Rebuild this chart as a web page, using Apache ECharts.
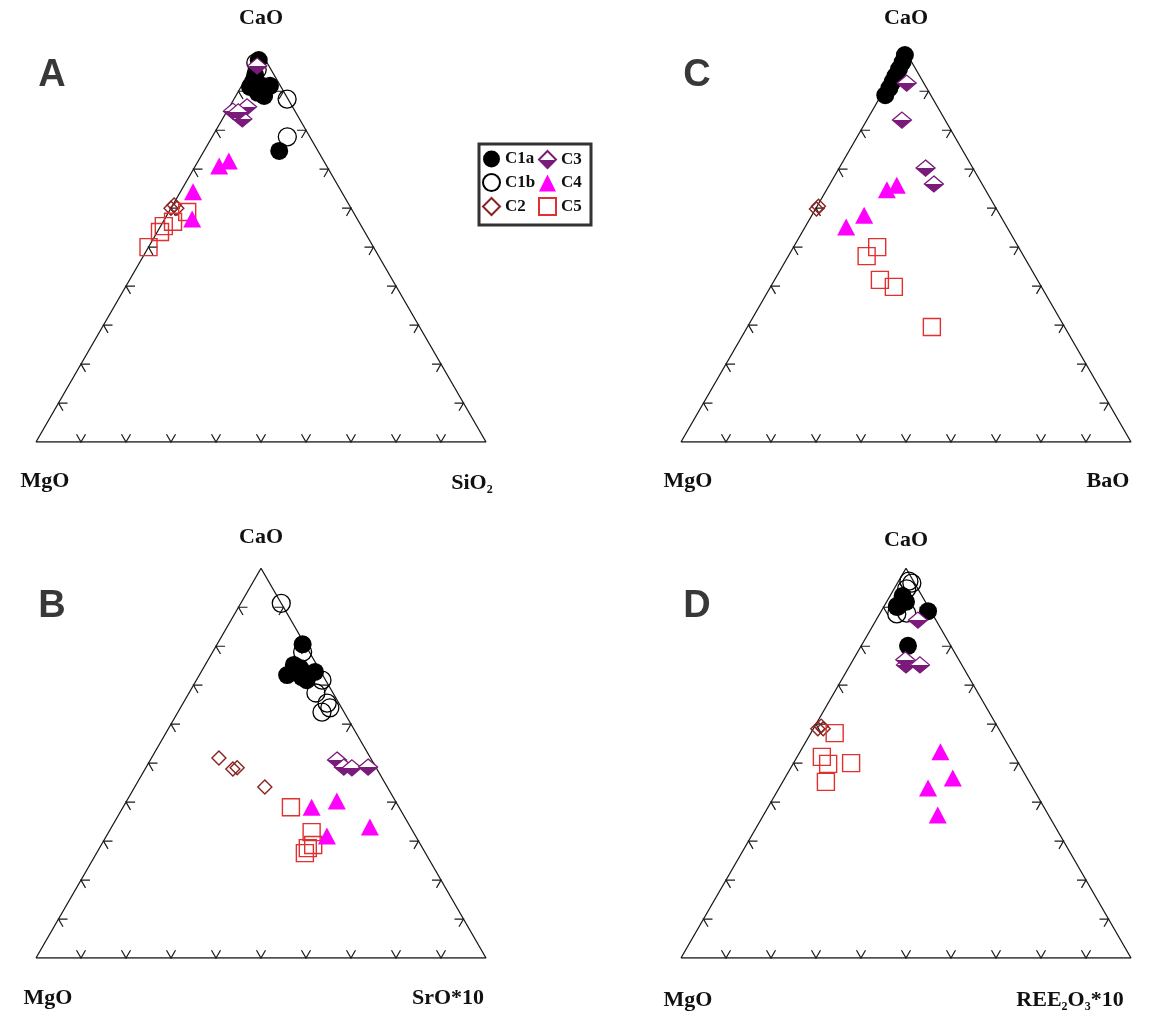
<!DOCTYPE html>
<html><head><meta charset="utf-8">
<script src="https://cdn.jsdelivr.net/npm/echarts@6/dist/echarts.min.js"></script>
<style>html,body{margin:0;padding:0;background:#fff}#c{width:1152px;height:1014px}</style>
</head><body><div id="c"></div>
<script>
// Compositions in percent: [CaO, MgO, third component]
// Panel A: CaO - MgO - SiO2
const A_C1a = [[98,1.5,0.5],[94.2,4.2,1.6],[92.4,5.6,2.0],[91.4,4.1,4.5],[91.4,2.3,6.3],[89.6,5.9,4.5],[91.1,6.9,2.0],[88.8,4.9,6.3],[74.7,8.6,16.7]];
const A_C1b = [[97.3,2.5,0.2],[95.5,3.1,1.4],[88.0,0.2,11.8],[78.3,5.0,16.7]];
const A_C2  = [[60.0,40.0,0.0],[60.8,38.9,0.3],[60.0,38.7,1.3]];
const A_C3  = [[96.5,2.6,0.9],[84.9,13.8,1.3],[86.0,10.1,3.9],[82.9,12.7,4.4],[84.7,12.7,2.6]];
const A_C4  = [[70.8,23.9,5.3],[72.1,21.1,6.8],[64.2,33.0,2.8],[57.2,36.7,6.1]];
const A_C5  = [[50.0,50.0,0.0],[53.9,45.5,0.6],[55.4,43.9,0.7],[56.5,41.3,2.2],[59.0,36.9,4.1]];
// Panel C: CaO - MgO - BaO
const C_C1a = [[99.3,0.6,0.1],[97.5,2.0,0.5],[95.7,3.7,0.6],[93.9,5.4,0.7],[92.4,6.8,0.8],[90.8,8.3,0.9],[89.0,10.1,0.9]];
const C_C1b = [];
const C_C2  = [[60.5,39.2,0.3],[59.8,40.0,0.2]];
const C_C3  = [[92.1,3.8,4.1],[82.6,9.6,7.8],[70.3,10.5,19.2],[66.2,10.7,23.1]];
const C_C4  = [[64.7,21.9,13.4],[65.9,19.1,15.0],[58.2,30.2,11.6],[55.2,35.7,9.1]];
const C_C5  = [[50.0,31.4,18.6],[47.7,34.9,17.4],[41.6,35.0,23.4],[39.8,32.8,27.4],[29.5,29.5,41.0]];
// Panel B: CaO - MgO - SrO*10
const B_C1a = [[80.5,0.5,19.0],[75.2,5.1,19.7],[72.6,7.9,19.5],[74.4,4.1,21.5],[71.3,4.2,24.5],[73.4,1.3,25.3],[72.1,4.9,23.0]];
const B_C1b = [[91.0,0.0,9.0],[78.5,1.5,20.0],[71.3,0.8,27.9],[68.0,3.8,28.2],[65.4,2.6,32.0],[63.1,4.9,32.0],[64.2,2.6,33.2]];
const B_C2  = [[51.3,33.7,15.0],[48.5,32.0,19.5],[48.8,30.9,20.3],[43.9,27.2,28.9]];
const B_C3  = [[50.8,7.7,41.5],[49.0,7.1,43.9],[48.8,5.4,45.8],[49.0,1.7,49.3]];
const B_C4  = [[38.7,19.4,41.9],[40.3,13.0,46.7],[31.3,19.7,49.0],[33.6,9.0,57.4]];
const B_C5  = [[38.7,24.0,37.3],[32.3,22.6,45.1],[29.0,23.9,47.1],[28.2,25.5,46.3],[26.9,26.8,46.3]];
// Panel D: CaO - MgO - REE2O3*10
const D_C1a = [[92.9,4.3,2.8],[90.1,7.0,2.9],[91.4,4.3,4.3],[89.0,0.6,10.4],[80.1,9.5,10.4]];
const D_C1b = [[96.7,1.0,2.3],[94.7,2.5,2.8],[90.3,6.7,3.0],[88.3,7.9,3.8],[88.5,5.6,5.9],[96.2,0.6,3.2]];
const D_C2  = [[58.8,40.2,1.0],[59.5,39.1,1.4],[58.8,39.0,2.2]];
const D_C3  = [[86.7,4.0,9.3],[75.2,12.4,12.4],[75.2,9.3,15.5],[76.5,11.9,11.6]];
const D_C4  = [[52.9,15.9,31.2],[46.2,16.5,37.3],[43.6,23.3,33.1],[36.7,24.6,38.7]];
const D_C5  = [[57.7,37.0,5.3],[51.6,42.9,5.5],[49.8,42.4,7.8],[50.0,37.2,12.8],[45.2,45.2,9.6]];

const groupNames = ['C1a','C1b','C2','C3','C4','C5'];
const tickValues = [10,20,30,40,50,60,70,80,90];
const panelLetters = ['A','C','B','D'];
const topLabels = ['CaO','CaO','CaO','CaO'];
const leftLabels = ['MgO','MgO','MgO','MgO'];
const rightLabels = ['SiO{s|2}','BaO','SrO*10','REE{s|2}O{s|3}*10'];

const SQ = Math.sqrt(3)/2;
const panelData = [
  [A_C1a,A_C1b,A_C2,A_C3,A_C4,A_C5],
  [C_C1a,C_C1b,C_C2,C_C3,C_C4,C_C5],
  [B_C1a,B_C1b,B_C2,B_C3,B_C4,B_C5],
  [D_C1a,D_C1b,D_C2,D_C3,D_C4,D_C5]
];
// layout (pixels)
const layout = [
  {x:36, base:442, w:450, letter:[52,76], top:[261,18], left:[45,481], right:[472,483]},
  {x:681, base:442, w:450, letter:[697,76], top:[906,18], left:[688,481], right:[1108,481]},
  {x:36, base:958, w:450, letter:[52,607], top:[261,537], left:[48,998], right:[448,998]},
  {x:681, base:958, w:450, letter:[697,607], top:[906,540], left:[688,1000], right:[1070,1000]}
];

function toXY(p){ const s=p[0]+p[1]+p[2]; const a=p[0]/s, c=p[2]/s; return [c + a/2, a*SQ]; }

const purple = '#7a1a7a';
const styles = {
  C1a:{symbol:'circle', symbolSize:18, itemStyle:{color:'#000', opacity:1}},
  C1b:{symbol:'circle', symbolSize:18, itemStyle:{color:'rgba(255,255,255,0)', borderColor:'#000', borderWidth:1.3, opacity:1}},
  C2:{symbol:'diamond', symbolSize:[14,14], itemStyle:{color:'rgba(255,255,255,0)', borderColor:'#8b2222', borderWidth:1.4, opacity:1}},
  C3:{symbol:'diamond', symbolSize:[19,16], itemStyle:{color:{type:'linear',x:0,y:0,x2:0,y2:1,colorStops:[{offset:0,color:'#fff'},{offset:0.5,color:'#fff'},{offset:0.5,color:purple},{offset:1,color:purple}]}, borderColor:purple, borderWidth:1.3, opacity:1}},
  C4:{symbol:'triangle', symbolSize:[18,17], itemStyle:{color:'#ff00ff', opacity:1}},
  C5:{symbol:'rect', symbolSize:17, itemStyle:{color:'rgba(255,255,255,0)', borderColor:'#e0302f', borderWidth:1.4, opacity:1}}
};
const drawOrder = ['C1b','C1a','C2','C5','C3','C4'];

const grids=[], xAxes=[], yAxes=[], series=[], graphics=[];
const tickData=[];
[0,1,2].forEach(e=>tickValues.forEach(t=>tickData.push([e,t/100])));

layout.forEach((L,i)=>{
  const h=L.w*SQ;
  grids.push({left:L.x, top:L.base-h, width:L.w, height:h});
  xAxes.push({gridIndex:i, type:'value', min:0, max:1, show:false});
  yAxes.push({gridIndex:i, type:'value', min:0, max:SQ, show:false});
  series.push({type:'line', xAxisIndex:i, yAxisIndex:i, data:[[0,0],[1,0],[0.5,SQ],[0,0]], symbol:'none', silent:true, lineStyle:{color:'#1a1a1a', width:1.3}, z:1, animation:false});
  series.push({type:'custom', xAxisIndex:i, yAxisIndex:i, data:tickData, silent:true, clip:false, z:1, animation:false,
    renderItem:function(params, api){
      const e=api.value(0), t=api.value(1);
      let p, d1, d2;
      if(e===0){ p=[t,0]; d1=[0.5,-SQ]; d2=[-0.5,-SQ]; }
      else if(e===1){ p=[t/2,t*SQ]; d1=[1,0]; d2=[0.5,SQ]; }
      else { p=[1-t/2,t*SQ]; d1=[-1,0]; d2=[-0.5,SQ]; }
      const P=api.coord(p), len=9;
      return {type:'polyline', shape:{points:[[P[0]+d1[0]*len,P[1]+d1[1]*len],P,[P[0]+d2[0]*len,P[1]+d2[1]*len]]}, style:{stroke:'#1a1a1a', lineWidth:1.2, fill:null}};
    }});
  drawOrder.forEach(g=>{
    const gi=groupNames.indexOf(g);
    const st=styles[g];
    series.push(Object.assign({type:'scatter', name:g, xAxisIndex:i, yAxisIndex:i, clip:false, z:3, animation:false,
      data:panelData[i][gi].map(toXY)}, st));
  });
  const serif='"Liberation Serif", "Times New Roman", serif';
  graphics.push({type:'text', x:L.letter[0], y:L.letter[1], style:{text:panelLetters[i], font:'bold 38px "Liberation Sans", Arial, sans-serif', fill:'#383838', align:'center', verticalAlign:'middle'}});
  graphics.push({type:'text', x:L.top[0], y:L.top[1], style:{text:topLabels[i], font:'bold 22px '+serif, fill:'#111', align:'center', verticalAlign:'middle'}});
  graphics.push({type:'text', x:L.left[0], y:L.left[1], style:{text:leftLabels[i], font:'bold 22px '+serif, fill:'#111', align:'center', verticalAlign:'middle'}});
  graphics.push({type:'text', x:L.right[0], y:L.right[1], style:{text:rightLabels[i], font:'bold 22px '+serif, fill:'#111', align:'center', verticalAlign:'middle',
     rich:{s:{font:'bold 12px '+serif, fill:'#111', padding:[14,0,0,0]}}}});
});

graphics.push({type:'rect', shape:{x:479, y:144, width:112, height:81}, style:{fill:'none', stroke:'#333', lineWidth:3}, z:10});

const legendText = {color:'#111', fontFamily:'"Liberation Serif", serif', fontWeight:'bold', fontSize:17, lineHeight:18};
const chart = echarts.init(document.getElementById('c'));
chart.setOption({
  animation:false,
  backgroundColor:'#fff',
  grid:grids, xAxis:xAxes, yAxis:yAxes, series:series,
  legend:[
    {data:['C1a','C1b','C2'], orient:'vertical', left:482, top:150, itemWidth:17, itemHeight:17, itemGap:5, textStyle:legendText, padding:0, selectedMode:false},
    {data:['C3','C4','C5'], orient:'vertical', left:538, top:150, itemWidth:17, itemHeight:17, itemGap:5, textStyle:legendText, padding:0, selectedMode:false}
  ],
  graphic:graphics
});
</script></body></html>
